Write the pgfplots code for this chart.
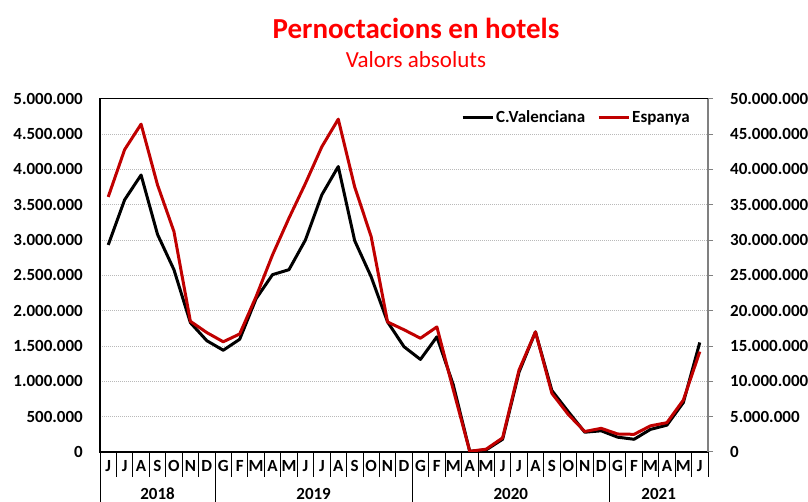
\documentclass[border=0pt]{standalone}
\usepackage{fontspec}
\setmainfont{Carlito}
\usepackage{pgfplots}
\usepackage{pgfplotstable}
\pgfplotsset{compat=1.18}
\definecolor{espred}{RGB}{192,0,0}
\definecolor{titred}{RGB}{255,0,0}

\pgfplotstableread{
x cv
0 2930000
1 3570000
2 3920000
3 3080000
4 2580000
5 1830000
6 1575000
7 1440000
8 1595000
9 2170000
10 2510000
11 2580000
12 3000000
13 3640000
14 4040000
15 2990000
16 2480000
17 1840000
18 1490000
19 1310000
20 1630000
21 950000
22 10000
23 30000
24 180000
25 1130000
26 1700000
27 870000
28 570000
29 280000
30 300000
31 210000
32 180000
33 320000
34 380000
35 700000
36 1550000
}\cvdata

\pgfplotstableread{
x es
0 36100000
1 42800000
2 46400000
3 37800000
4 31200000
5 18500000
6 16900000
7 15600000
8 16700000
9 22000000
10 27900000
11 33100000
12 38000000
13 43200000
14 47100000
15 37500000
16 30500000
17 18400000
18 17300000
19 16100000
20 17700000
21 8800000
22 100000
23 400000
24 2000000
25 11600000
26 17000000
27 8300000
28 5300000
29 2900000
30 3350000
31 2550000
32 2500000
33 3700000
34 4150000
35 7350000
36 14200000
}\esdata

\newcommand{\tickfont}{\bfseries\fontsize{17}{19}\selectfont}

\begin{document}
\begin{tikzpicture}[x=1pt,y=1pt]
\path[use as bounding box] (0,0) rectangle (808,502);
\node[font=\bfseries\fontsize{29}{32}\selectfont, text=titred, anchor=base, inner sep=0pt] at (416,463) {Pernoctacions en hotels};
\node[font=\fontsize{23}{26}\selectfont, text=titred, anchor=base, inner sep=0pt] at (416,434) {Valors absoluts};

\begin{axis}[
  at={(100pt,50pt)}, anchor=south west, scale only axis,
  width=608pt, height=353.3pt,
  xmin=-0.5, xmax=36.5, ymin=0, ymax=5000000,
  clip=false,
  axis line style={black, line width=1.6pt},
  ytick={0,500000,1000000,1500000,2000000,2500000,3000000,3500000,4000000,4500000,5000000},
  scaled y ticks=false,
  /pgf/number format/fixed,
  /pgf/number format/precision=0,
  /pgf/number format/1000 sep={.},
  /pgf/number format/assume math mode=true,
  y tick label style={font=\tickfont, inner sep=0pt, xshift=-17pt},
  ytick style={draw=none}, xtick style={draw=none},
  ymajorgrids,
  major grid style={gray!55, dash pattern=on 1pt off 1pt, line width=0.7pt},
  xtick={0,...,36},
  xticklabels={J,J,A,S,O,N,D,G,F,M,A,M,J,J,A,S,O,N,D,G,F,M,A,M,J,J,A,S,O,N,D,G,F,M,A,M,J},
  x tick label style={font=\tickfont, anchor=base, inner sep=0pt, yshift=-19.7pt},
]
\addplot[black, line width=3pt, line join=round] table[x=x,y=cv]{\cvdata};
\pgfplotsinvokeforeach{0,...,35}{\draw[black, line width=0.8pt] (axis cs:#1.5,0) -- ++(0pt,-25pt);}
\pgfplotsinvokeforeach{6,18,30}{\draw[black, line width=0.8pt] (axis cs:#1.5,0) -- ++(0pt,-50pt);}
\draw[black, line width=0.8pt] (axis cs:-0.5,0) -- ++(0pt,-50pt);
\draw[black, line width=0.8pt] (axis cs:36.5,0) -- ++(0pt,-25pt);
\node[font=\tickfont, anchor=base, inner sep=0pt, yshift=-47.3pt] at (axis cs:3,0) {2018};
\node[font=\tickfont, anchor=base, inner sep=0pt, yshift=-47.3pt] at (axis cs:12.5,0) {2019};
\node[font=\tickfont, anchor=base, inner sep=0pt, yshift=-47.3pt] at (axis cs:24.5,0) {2020};
\node[font=\tickfont, anchor=base, inner sep=0pt, yshift=-47.3pt] at (axis cs:33.5,0) {2021};
\end{axis}

\begin{axis}[
  at={(100pt,50pt)}, anchor=south west, scale only axis,
  width=608pt, height=353.3pt,
  xmin=-0.5, xmax=36.5, ymin=0, ymax=50000000,
  axis x line=none, axis y line*=right,
  y axis line style={gray, line width=1.6pt},
  ytick={0,5000000,10000000,15000000,20000000,25000000,30000000,35000000,40000000,45000000,50000000},
  scaled y ticks=false,
  /pgf/number format/fixed,
  /pgf/number format/precision=0,
  /pgf/number format/1000 sep={.},
  /pgf/number format/assume math mode=true,
  y tick label style={font=\tickfont, inner sep=0pt, xshift=17pt},
  tick align=outside, major tick length=5pt,
  ytick style={gray, line width=1pt},
  legend style={at={(1,1)}, anchor=north east, xshift=-16pt, yshift=-10pt, draw=none, fill=none,
    font=\bfseries\fontsize{17}{19}\selectfont, inner sep=0pt,
    /tikz/every even column/.append style={column sep=10pt}},
  legend columns=2,
  legend image code/.code={\draw[#1] (0pt,0pt) -- (30pt,0pt);},
]
\addlegendimage{black, line width=3pt}
\addlegendentry{C.Valenciana}
\addplot[espred, line width=3pt, line join=round] table[x=x,y=es]{\esdata};
\addlegendentry{Espanya}
\end{axis}
\end{tikzpicture}
\end{document}
